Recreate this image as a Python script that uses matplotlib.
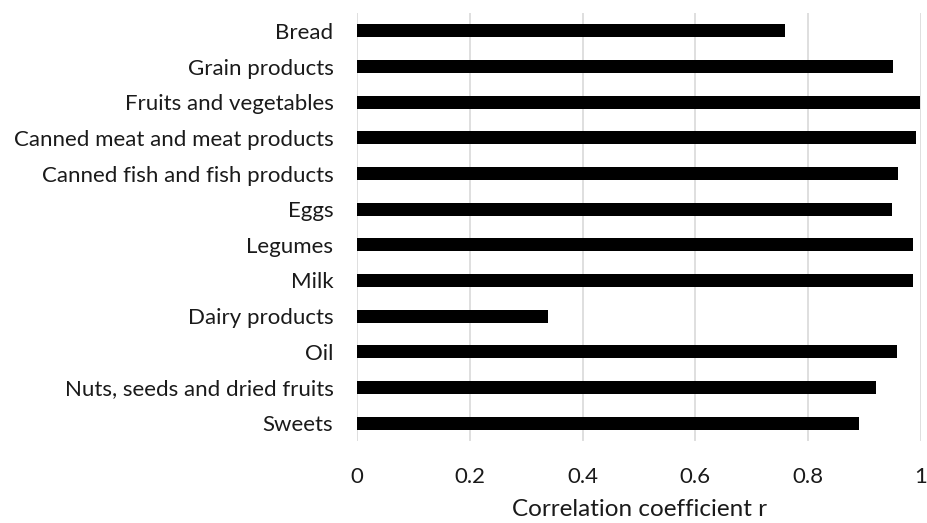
import numpy as np
import matplotlib
matplotlib.use("Agg")
import matplotlib.pyplot as plt

# food groups, top to bottom as shown
categories = [
    "Bread",
    "Grain products",
    "Fruits and vegetables",
    "Canned meat and meat products",
    "Canned fish and fish products",
    "Eggs",
    "Legumes",
    "Milk",
    "Dairy products",
    "Oil",
    "Nuts, seeds and dried fruits",
    "Sweets",
]
r_values = [0.759, 0.950, 0.998, 0.992, 0.959, 0.949, 0.986, 0.986, 0.338, 0.957, 0.920, 0.890]
x_ticks = [0, 0.2, 0.4, 0.6, 0.8, 1]
x_tick_labels = ["0", "0.2", "0.4", "0.6", "0.8", "1"]

plt.rcParams['font.family'] = ['Lato', 'DejaVu Sans']

fig = plt.figure(figsize=(9.28, 5.23), dpi=100)
ax = fig.add_axes([357 / 928, 1 - 441 / 523, (921 - 357) / 928, (441 - 13) / 523])

y = np.arange(len(categories))
ax.barh(y, r_values, height=0.36, color="black", zorder=3)

ax.set_ylim(len(categories) - 0.5, -0.5)
ax.set_xlim(0, 1)
ax.set_yticks(y)
ax.set_yticklabels(categories, fontsize=16, color="#1a1a1a")
ax.set_xticks(x_ticks)
ax.set_xticklabels(x_tick_labels, fontsize=16, color="#1a1a1a")
ax.tick_params(axis="y", length=0, pad=17)
ax.tick_params(axis="x", length=0, pad=19)

ax.grid(axis="x", color="#d9d9d9", linewidth=1.2, zorder=0)
for side in ["top", "right", "bottom", "left"]:
    ax.spines[side].set_visible(False)

ax.set_xlabel("Correlation coefficient r", fontsize=17.5, color="#1a1a1a", labelpad=8)

fig.savefig("out.png", dpi=100)
